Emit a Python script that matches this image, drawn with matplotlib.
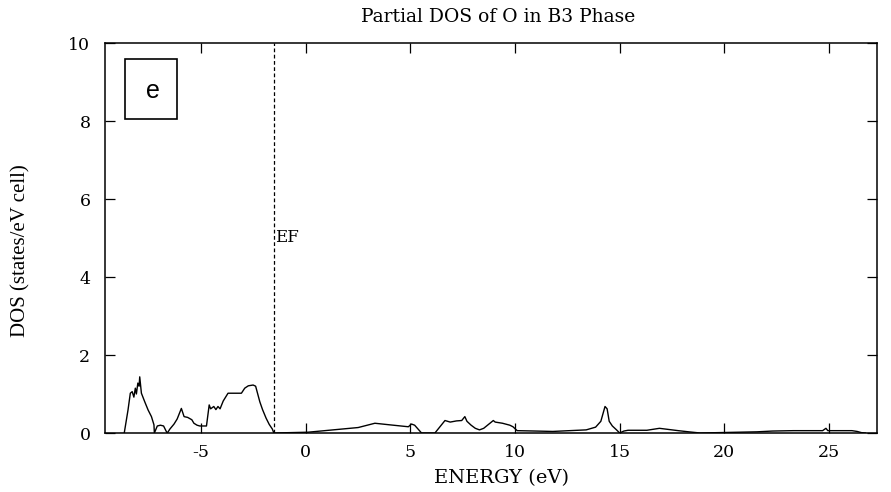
import matplotlib
matplotlib.use("Agg")
import matplotlib.pyplot as plt
from matplotlib.patches import Rectangle

# Partial DOS of O (energy in eV, DOS in states/eV cell)
energy = [-8.68, -8.50, -8.39, -8.30, -8.22, -8.15, -8.10, -8.03, -7.97, -7.94,
          -7.86, -7.70, -7.54, -7.38, -7.26, -7.24, -7.10, -6.95, -6.80, -6.68,
          -6.62, -6.50, -6.30, -6.15, -5.95, -5.82, -5.65, -5.45, -5.35, -5.20,
          -5.07, -4.75, -4.62, -4.55, -4.40, -4.30, -4.20, -4.10, -3.95, -3.72,
          -3.08, -2.92, -2.75, -2.52, -2.40, -2.28, -2.20, -2.07, -1.90, -1.75,
          -1.60, -1.53,
          0.10, 1.30, 2.50, 3.30, 4.00, 4.90, 5.05, 5.20, 5.53, 6.17,
          6.65, 6.90, 7.20, 7.45, 7.60, 7.70, 7.90, 8.10, 8.30, 8.50,
          8.96, 9.05, 9.40, 9.75, 9.90, 10.10, 11.00, 11.80, 12.60, 13.40,
          13.85, 14.10, 14.30, 14.40, 14.50, 14.65, 14.85, 15.00, 15.20, 15.40,
          16.30, 16.90, 17.20, 17.80, 18.30, 18.85,
          21.56, 22.30, 23.30, 24.70, 24.86, 24.95, 26.10, 26.35, 26.55, 26.75]
dos = [0.00, 0.59, 1.02, 1.06, 0.92, 1.15, 1.00, 1.28, 1.20, 1.44,
       1.02, 0.80, 0.59, 0.42, 0.21, 0.00, 0.18, 0.20, 0.18, 0.05,
       0.00, 0.10, 0.23, 0.36, 0.63, 0.42, 0.40, 0.34, 0.25, 0.20,
       0.18, 0.18, 0.72, 0.62, 0.68, 0.60, 0.68, 0.62, 0.82, 1.02,
       1.02, 1.15, 1.21, 1.23, 1.20, 0.96, 0.80, 0.60, 0.38, 0.22,
       0.10, 0.00,
       0.02, 0.08, 0.14, 0.25, 0.21, 0.16, 0.23, 0.20, 0.00, 0.00,
       0.32, 0.28, 0.31, 0.32, 0.42, 0.30, 0.20, 0.12, 0.08, 0.12,
       0.32, 0.28, 0.25, 0.20, 0.16, 0.06, 0.05, 0.04, 0.06, 0.08,
       0.15, 0.30, 0.68, 0.62, 0.30, 0.18, 0.08, 0.00, 0.05, 0.07,
       0.07, 0.12, 0.10, 0.06, 0.03, 0.00,
       0.03, 0.05, 0.06, 0.06, 0.12, 0.06, 0.06, 0.04, 0.01, 0.00]

fermi_level = -1.53
xticks = [-5, 0, 5, 10, 15, 20, 25]
yticks = [0, 2, 4, 6, 8, 10]

plt.rcParams["axes.unicode_minus"] = False
wide_serif = ["DejaVu Serif"]
serif = ["Liberation Serif", "DejaVu Serif"]

fig = plt.figure(figsize=(8.91, 4.92), dpi=100)
ax = fig.add_axes([105/891, 59/492, (877-105)/891, (433-43)/492])

ax.plot(energy, dos, color="black", lw=1.0)
ax.plot([-8.9, energy[0]], [0, 0], color="black", lw=1.0)
ax.axvline(fermi_level, color="black", lw=0.9, ls=(0, (3, 2)))
ax.text(fermi_level + 0.05, 5.0, "EF", family=wide_serif, fontsize=12,
        va="center", ha="left")

ax.set_xlim(-9.6, 27.3)
ax.set_ylim(0, 10)
ax.set_xticks(xticks)
ax.set_yticks(yticks)
ax.tick_params(direction="in", length=7, width=0.9, top=True, right=True,
               labelsize=12.5)
ax.tick_params(axis="x", pad=8)
ax.tick_params(axis="y", pad=10.5)
for lab in ax.get_xticklabels() + ax.get_yticklabels():
    lab.set_family(wide_serif)
for s in ax.spines.values():
    s.set_linewidth(1.1)

fig.text(502/891, 1 - 478/492, "ENERGY (eV)", family=wide_serif, fontsize=14,
         ha="center", va="center")
fig.text(21/891, 1 - 251/492, "DOS (states/eV cell)", family=serif, fontsize=15,
         rotation=90, ha="center", va="center")
fig.text(498/891, 1 - 17/492, "Partial DOS of O in B3 Phase", family=wide_serif,
         fontsize=13.5, ha="center", va="center")

# panel label box
ax.add_patch(Rectangle((0.0259, 0.805), 0.0674, 0.154, transform=ax.transAxes,
                       fc="white", ec="black", lw=1.2, zorder=5))
ax.text(0.062, 0.877, "e", transform=ax.transAxes,
        family=["Liberation Sans", "DejaVu Sans"], fontsize=18,
        ha="center", va="center", zorder=6)

fig.savefig("out.png", dpi=100)
